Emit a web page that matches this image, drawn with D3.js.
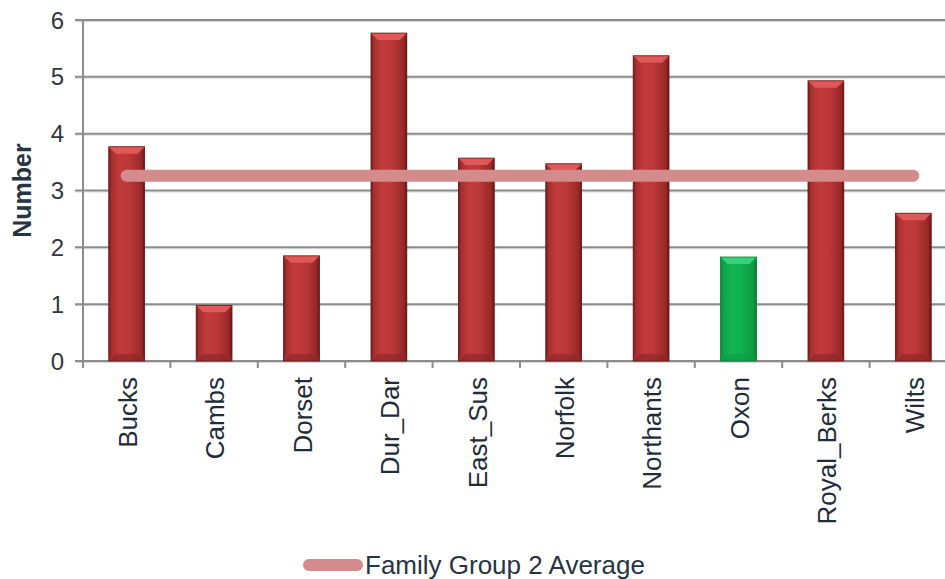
<!DOCTYPE html>
<html>
<head>
<meta charset="utf-8">
<script src="https://cdn.jsdelivr.net/npm/d3@7"></script>
<style>
  html, body { margin: 0; padding: 0; background: #fff; }
  svg { display: block; font-family: "Liberation Sans", Arial, sans-serif; }
</style>
</head>
<body>
<svg id="chart" width="945" height="579"></svg>
<script>
// Authorities in the family group and their values
const categories = ["Bucks", "Cambs", "Dorset", "Dur_Dar", "East_Sus", "Norfolk", "Northants", "Oxon", "Royal_Berks", "Wilts"];
const values = [3.77, 0.98, 1.85, 5.77, 3.57, 3.47, 5.37, 1.83, 4.93, 2.60];
const highlighted = ["Oxon"];
const groupAverage = 3.26;
const averageLabel = "Family Group 2 Average";
const yTicks = [0, 1, 2, 3, 4, 5, 6];
const yTitle = "Number";

(function draw() {
  const svg = d3.select("#chart");
  const plotLeft = 83, plotRight = 957, plotTop = 20, plotBottom = 361;

  const x = d3.scaleBand().domain(categories).range([plotLeft, plotRight])
    .paddingInner(0.59).paddingOuter(0.295);
  const y = d3.scaleLinear().domain([0, 6]).range([plotBottom, plotTop]);

  const defs = svg.append("defs");
  function bodyGradient(id, stops) {
    const g = defs.append("linearGradient").attr("id", id)
      .attr("x1", "0%").attr("x2", "100%").attr("y1", "0%").attr("y2", "0%");
    stops.forEach(([o, c]) => g.append("stop").attr("offset", o).attr("stop-color", c));
  }
  bodyGradient("redBody", [["0%", "#9c2b2b"], ["30%", "#c23b3b"], ["60%", "#bb3737"], ["100%", "#8e2424"]]);
  bodyGradient("greenBody", [["0%", "#0e9c46"], ["30%", "#13b553"], ["60%", "#11b050"], ["100%", "#0c9442"]]);

  // Gridlines with a faint shadow below each
  const grid = svg.append("g");
  grid.selectAll("line.shadow").data(yTicks).join("line").attr("class", "shadow")
    .attr("x1", plotLeft - 8).attr("x2", 945)
    .attr("y1", d => y(d) + 1.5).attr("y2", d => y(d) + 1.5)
    .attr("stroke", "#d9d9d9").attr("stroke-width", 1);
  grid.selectAll("line.main").data(yTicks).join("line").attr("class", "main")
    .attr("x1", plotLeft - 8).attr("x2", 945)
    .attr("y1", d => y(d)).attr("y2", d => y(d))
    .attr("stroke", "#8c8c8c").attr("stroke-width", 2);

  // Vertical axis line
  svg.append("line").attr("x1", plotLeft).attr("x2", plotLeft)
    .attr("y1", plotTop).attr("y2", plotBottom + 7)
    .attr("stroke", "#8c8c8c").attr("stroke-width", 2);

  // Category ticks at band boundaries
  const step = x.step();
  const boundaries = categories.map(c => x(c) - x.paddingInner() * step / 2).slice(1);
  svg.append("g").selectAll("line").data(boundaries).join("line")
    .attr("x1", d => d).attr("x2", d => d)
    .attr("y1", plotBottom).attr("y2", plotBottom + 7)
    .attr("stroke", "#8c8c8c").attr("stroke-width", 2);

  // Y tick labels
  svg.append("g").selectAll("text").data(yTicks).join("text")
    .attr("x", 64).attr("y", d => y(d))
    .attr("dy", "0.36em").attr("text-anchor", "end")
    .attr("font-size", 24).attr("fill", "#2f3740")
    .text(d => d);

  // Y axis title
  svg.append("text")
    .attr("transform", `translate(31,${(plotTop + plotBottom) / 2}) rotate(-90)`)
    .attr("text-anchor", "middle").attr("font-size", 25).attr("font-weight", "bold")
    .attr("fill", "#263443").text(yTitle);

  // Bevelled bars
  const bars = svg.append("g");
  const bw = x.bandwidth();
  const bev = 7;
  const poly = pts => pts.map(p => p.join(",")).join(" ");
  categories.forEach((c, i) => {
    const x0 = x(c), x1 = x0 + bw, y0 = y(values[i]), y1 = y(0);
    const green = highlighted.includes(c);
    const g = bars.append("g");
    g.append("rect").attr("x", x0).attr("y", y0).attr("width", bw).attr("height", y1 - y0)
      .attr("fill", green ? "url(#greenBody)" : "url(#redBody)");
    const b = Math.min(bev, (y1 - y0) / 2);
    // top face
    g.append("polygon").attr("points", poly([[x0, y0], [x1, y0], [x1 - b, y0 + b], [x0 + b, y0 + b]]))
      .attr("fill", green ? "#36d27a" : "#e05858");
    // left edge
    g.append("polygon").attr("points", poly([[x0, y0], [x0 + 2, y0 + b], [x0 + 2, y1 - b], [x0, y1]]))
      .attr("fill", green ? "#0a8a3c" : "#7c1e1e").attr("opacity", 0.7);
    // right edge
    g.append("polygon").attr("points", poly([[x1, y0], [x1 - 2, y0 + b], [x1 - 2, y1 - b], [x1, y1]]))
      .attr("fill", green ? "#087e36" : "#6f1a1a").attr("opacity", 0.8);
    // bottom face
    g.append("polygon").attr("points", poly([[x0, y1], [x0 + b, y1 - b], [x1 - b, y1 - b], [x1, y1]]))
      .attr("fill", green ? "#0c9a44" : "#8a2525").attr("opacity", 0.6);
    g.append("rect").attr("x", x0).attr("y", y0).attr("width", bw).attr("height", y1 - y0)
      .attr("fill", "none").attr("stroke", green ? "#0b7f38" : "#6a1818").attr("stroke-width", 0.8);
  });

  // Family group average line
  const avgColor = "#d38b8b";
  const centers = categories.map(c => x(c) + bw / 2);
  svg.append("path")
    .attr("d", d3.line()([[centers[0], y(groupAverage)], [centers[centers.length - 1], y(groupAverage)]]))
    .attr("stroke", avgColor).attr("stroke-width", 12).attr("stroke-linecap", "round").attr("fill", "none");

  // Category labels, rotated
  svg.append("g").selectAll("text").data(categories).join("text")
    .attr("transform", c => `translate(${x(c) + bw / 2 + 1},${plotBottom + 16}) rotate(-90)`)
    .attr("text-anchor", "end").attr("dy", "0.36em")
    .attr("font-size", 26).attr("fill", "#1f2d3b")
    .text(c => c);

  // Legend
  const lg = svg.append("g");
  lg.append("line").attr("x1", 309).attr("x2", 357).attr("y1", 565).attr("y2", 565)
    .attr("stroke", avgColor).attr("stroke-width", 12).attr("stroke-linecap", "round");
  lg.append("text").attr("x", 365).attr("y", 565).attr("dy", "0.36em")
    .attr("font-size", 26).attr("fill", "#263443").text(averageLabel);
})();
</script>
</body>
</html>
